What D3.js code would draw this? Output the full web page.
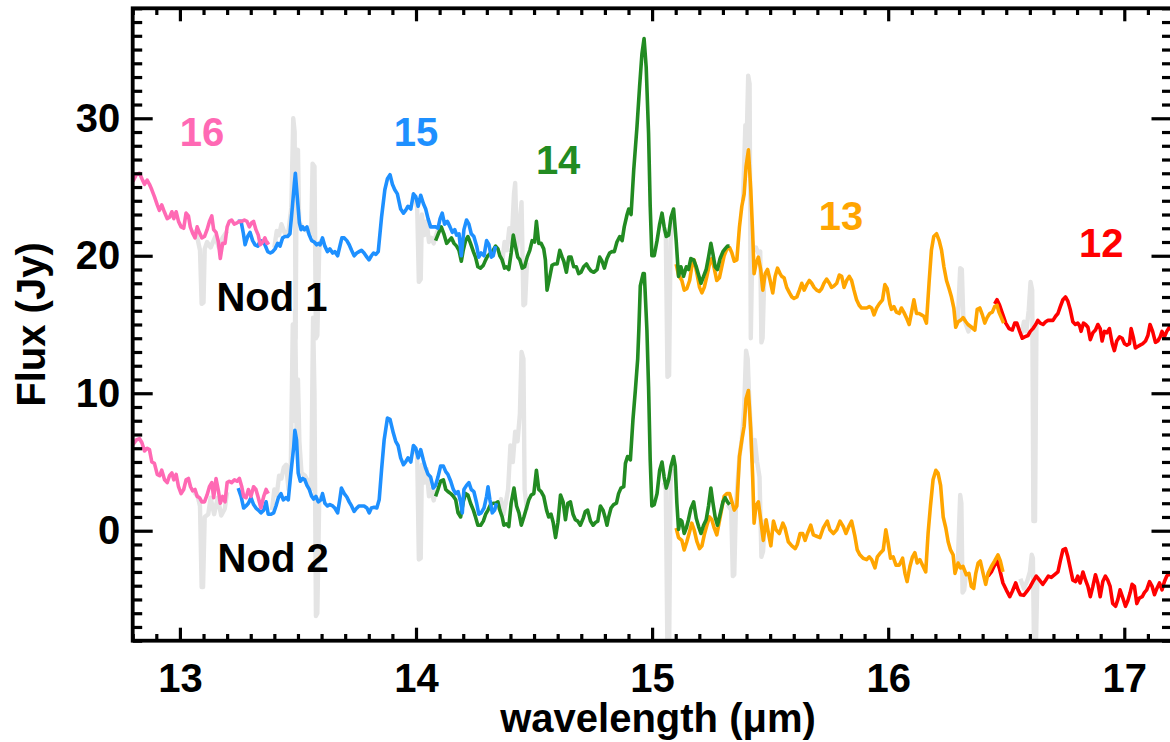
<!DOCTYPE html>
<html><head><meta charset="utf-8">
<script src="https://cdn.jsdelivr.net/npm/d3@7"></script>
<style>
html,body{margin:0;padding:0;background:#fff;}
svg text{font-family:"Liberation Sans",Arial,Helvetica,sans-serif;font-weight:bold;}
</style></head>
<body><svg id="chart" width="1170" height="742"></svg>
<script>
// ---------------- DATA (wavelength in micron, flux in Jy) ----------------
const xMajorTicks = [13, 14, 15, 16, 17];
const yMajorTicks = [0, 10, 20, 30];
const xLabel = "wavelength (\u03bcm)";
const yLabel = "Flux (Jy)";

const orderNames  = ["12", "13", "14", "15", "16"];
const orderColors = ["#FF0000", "#FFA500", "#228B22", "#1E90FF", "#FF69B4"];
// order label anchor points [wavelength, flux]
const orderLabelPos = [[16.902, 19.9], [15.80, 21.9], [14.602, 25.95], [14.0, 28.0], [13.094, 28.0]];
const nodNames = ["Nod 1", "Nod 2"];
const nodLabelPos = [[13.39, 16.0], [13.395, -3.0]];

const nod1_o16 = [[12.801,25.4],[12.815,25.9],[12.829,26.0],[12.839,25.6],[12.850,25.2],[12.861,25.5],[12.871,25.2],[12.881,24.8],[12.892,24.3],[12.904,23.7],[12.913,23.3],[12.923,23.7],[12.934,23.2],[12.946,22.7],[12.956,22.8],[12.966,23.2],[12.974,22.7],[12.984,23.2],[12.994,22.5],[13.005,22.1],[13.016,22.0],[13.026,23.1],[13.036,22.9],[13.044,22.1],[13.055,21.6],[13.064,21.3],[13.073,22.1],[13.082,21.7],[13.093,21.3],[13.104,21.4],[13.115,21.9],[13.125,22.5],[13.135,22.9],[13.143,21.9],[13.153,21.7],[13.163,21.0],[13.171,19.8],[13.181,20.9],[13.191,20.9],[13.200,22.1],[13.209,22.5],[13.219,22.6],[13.230,22.3],[13.242,22.4],[13.252,22.5],[13.262,22.5],[13.273,22.6],[13.284,22.5],[13.294,22.1],[13.304,22.4],[13.312,22.5],[13.322,21.9],[13.332,21.5],[13.340,20.8],[13.351,21.0],[13.360,21.3],[13.369,20.9],[13.378,21.0]];

const nod1_o15 = [[13.245,22.5],[13.259,22.5],[13.269,21.6],[13.276,20.8],[13.287,21.4],[13.297,21.7],[13.308,21.1],[13.318,20.8],[13.330,20.7],[13.341,21.1],[13.351,21.0],[13.360,20.8],[13.372,20.3],[13.383,20.2],[13.393,20.3],[13.403,20.5],[13.414,20.9],[13.424,20.7],[13.435,21.3],[13.445,21.4],[13.456,21.4],[13.466,21.6],[13.475,23.3],[13.485,25.3],[13.489,26.0],[13.496,24.5],[13.506,22.4],[13.513,21.9],[13.520,22.1],[13.527,21.9],[13.538,22.1],[13.548,21.5],[13.558,21.1],[13.569,21.0],[13.579,20.8],[13.587,20.9],[13.594,20.8],[13.604,21.3],[13.614,20.7],[13.625,20.3],[13.635,20.5],[13.647,20.2],[13.656,20.3],[13.668,20.0],[13.679,20.8],[13.686,21.3],[13.696,21.3],[13.707,21.1],[13.717,20.8],[13.727,20.4],[13.738,20.0],[13.749,20.2],[13.759,20.3],[13.769,20.4],[13.780,20.2],[13.792,19.9],[13.801,19.7],[13.811,20.0],[13.820,20.2],[13.830,20.1],[13.840,20.3],[13.854,22.8],[13.868,24.8],[13.879,25.6],[13.890,25.9],[13.900,25.2],[13.910,24.8],[13.921,24.5],[13.935,23.4],[13.947,23.1],[13.956,23.3],[13.966,23.6],[13.978,23.4],[13.989,24.5],[13.999,24.3],[14.009,23.6],[14.020,24.4],[14.031,23.8],[14.041,23.4],[14.051,22.7],[14.062,22.1],[14.073,22.1],[14.083,22.1],[14.093,22.0],[14.102,22.7],[14.111,23.1],[14.121,22.3],[14.133,22.5],[14.144,22.1],[14.154,21.7],[14.164,21.9],[14.172,21.5],[14.182,21.6],[14.192,20.0],[14.203,21.9],[14.214,22.6],[14.224,22.3],[14.234,21.6],[14.245,21.4],[14.257,20.7],[14.266,19.9],[14.276,20.2],[14.288,20.0],[14.299,21.1],[14.309,20.8],[14.319,19.9],[14.327,20.0],[14.337,20.7]];

const nod1_o14 = [[14.083,21.1],[14.097,21.7],[14.107,22.1],[14.118,21.6],[14.130,20.9],[14.140,21.1],[14.150,21.3],[14.161,20.9],[14.172,20.7],[14.182,20.4],[14.192,19.6],[14.200,20.4],[14.210,21.1],[14.220,21.4],[14.231,20.9],[14.243,20.3],[14.252,19.9],[14.262,19.2],[14.273,19.1],[14.285,19.3],[14.295,19.7],[14.304,20.0],[14.316,20.2],[14.327,20.4],[14.337,20.7],[14.347,20.5],[14.355,20.0],[14.365,19.7],[14.375,19.1],[14.383,19.2],[14.393,19.0],[14.403,20.2],[14.412,21.5],[14.421,20.7],[14.431,19.9],[14.440,19.7],[14.450,19.1],[14.460,19.2],[14.471,19.9],[14.482,20.4],[14.492,21.1],[14.502,21.0],[14.510,22.5],[14.520,20.9],[14.530,20.9],[14.541,20.5],[14.548,19.7],[14.555,17.5],[14.567,18.5],[14.576,19.3],[14.586,19.4],[14.598,19.4],[14.609,20.4],[14.619,19.9],[14.626,19.6],[14.637,18.8],[14.647,19.9],[14.657,19.9],[14.668,19.2],[14.679,19.2],[14.689,18.7],[14.699,18.8],[14.710,19.2],[14.722,19.4],[14.732,19.1],[14.741,18.9],[14.753,18.8],[14.767,19.0],[14.778,19.9],[14.788,19.6],[14.798,19.1],[14.809,19.8],[14.820,20.2],[14.830,20.3],[14.840,20.3],[14.851,21.0],[14.863,21.4],[14.873,21.1],[14.882,22.1],[14.894,23.0],[14.901,23.4],[14.911,23.0],[14.922,26.2],[14.936,29.4],[14.947,32.3],[14.957,34.7],[14.966,35.8],[14.975,33.7],[14.985,28.9],[14.992,23.6],[14.999,20.0],[15.009,20.0],[15.021,21.1],[15.032,22.3],[15.042,23.1],[15.051,22.1],[15.060,21.4],[15.070,21.5],[15.080,22.8],[15.091,23.4],[15.102,21.1],[15.112,18.5],[15.122,19.2],[15.133,18.5],[15.145,19.2],[15.154,19.0],[15.164,19.8],[15.176,19.7],[15.187,19.2],[15.197,18.6],[15.207,18.0],[15.218,18.5],[15.229,19.0],[15.239,19.9],[15.249,20.9],[15.257,20.2],[15.267,19.2],[15.277,19.0],[15.288,19.8],[15.300,20.3],[15.309,20.5],[15.319,20.7],[15.328,20.7]];

const nod1_o13 = [[15.102,19.4],[15.112,18.6],[15.126,18.2],[15.136,17.5],[15.147,17.6],[15.159,18.2],[15.168,19.2],[15.178,19.7],[15.190,18.7],[15.201,17.7],[15.211,17.3],[15.221,17.7],[15.232,18.5],[15.243,19.4],[15.253,19.8],[15.263,19.1],[15.274,18.2],[15.285,18.4],[15.295,19.2],[15.305,20.0],[15.317,20.5],[15.328,20.6],[15.338,20.2],[15.348,19.6],[15.359,19.7],[15.370,22.1],[15.380,23.6],[15.390,24.5],[15.398,26.5],[15.408,27.7],[15.418,24.8],[15.426,21.6],[15.432,18.7],[15.440,19.4],[15.450,19.9],[15.460,19.0],[15.469,17.5],[15.479,18.7],[15.489,19.0],[15.500,18.2],[15.511,17.3],[15.521,18.5],[15.531,19.1],[15.542,18.7],[15.549,18.5],[15.559,18.4],[15.570,17.7],[15.582,17.3],[15.592,17.0],[15.601,16.9],[15.613,17.0],[15.624,17.5],[15.634,18.0],[15.644,17.5],[15.655,17.9],[15.666,18.2],[15.676,18.0],[15.686,17.7],[15.697,17.5],[15.708,17.4],[15.718,17.6],[15.728,18.0],[15.739,18.3],[15.751,18.0],[15.760,17.7],[15.770,17.8],[15.782,18.0],[15.793,18.6],[15.803,18.5],[15.813,17.7],[15.824,18.2],[15.835,18.5],[15.845,18.2],[15.855,17.5],[15.866,16.8],[15.877,16.4],[15.887,16.2],[15.897,16.2],[15.909,16.2],[15.920,16.3],[15.930,16.2],[15.940,15.7],[15.951,16.2],[15.962,16.5],[15.976,16.8],[15.986,17.9],[15.996,17.6],[16.007,16.5],[16.014,16.1],[16.024,16.3],[16.035,15.9],[16.047,15.8],[16.056,16.2],[16.066,15.9],[16.077,15.5],[16.089,15.0],[16.099,15.9],[16.109,16.8],[16.120,15.8],[16.131,15.8],[16.141,15.7],[16.151,15.6],[16.162,15.1],[16.173,18.0],[16.183,20.4],[16.193,21.4],[16.205,21.6],[16.216,21.1],[16.226,20.4],[16.236,19.2],[16.247,18.2],[16.258,17.6],[16.268,17.0],[16.278,16.2],[16.286,14.8],[16.296,15.2],[16.306,15.3],[16.317,15.5],[16.329,15.2],[16.338,15.0],[16.353,14.8],[16.367,14.6],[16.377,16.1],[16.388,16.2],[16.399,15.7],[16.409,15.1],[16.419,15.5],[16.430,15.8],[16.441,15.9],[16.451,16.3],[16.461,16.4],[16.469,15.9],[16.479,15.5],[16.489,15.1]];

const nod1_o12 = [[16.451,16.5],[16.461,16.8],[16.472,16.4],[16.484,15.8],[16.498,15.1],[16.512,14.7],[16.526,14.6],[16.536,15.1],[16.545,15.1],[16.557,14.5],[16.568,14.0],[16.578,14.1],[16.592,14.2],[16.602,14.5],[16.613,14.7],[16.625,15.0],[16.634,15.3],[16.644,15.1],[16.656,15.0],[16.667,15.2],[16.677,15.3],[16.686,15.3],[16.698,15.3],[16.709,15.6],[16.719,15.8],[16.729,16.3],[16.740,16.8],[16.751,17.0],[16.761,16.7],[16.771,16.1],[16.782,15.2],[16.793,15.0],[16.803,15.1],[16.811,14.9],[16.817,14.5],[16.827,15.1],[16.836,15.0],[16.846,14.8],[16.856,13.9],[16.867,14.4],[16.878,14.6],[16.888,15.0],[16.898,14.7],[16.906,13.8],[16.916,14.5],[16.926,14.4],[16.937,14.7],[16.949,13.6],[16.958,13.1],[16.968,13.8],[16.980,14.1],[16.991,14.0],[17.001,13.6],[17.011,13.5],[17.022,13.6],[17.029,14.7],[17.039,14.0],[17.047,13.3],[17.057,13.4],[17.067,13.5],[17.078,13.6],[17.090,13.8],[17.100,14.2],[17.109,15.0],[17.120,14.5],[17.132,13.7],[17.142,13.8],[17.152,14.1],[17.160,14.5],[17.170,14.1],[17.180,14.5],[17.191,14.8],[17.200,14.6]];

const nod2_o16 = [[12.801,6.25],[12.815,6.6],[12.829,6.7],[12.839,6.4],[12.850,5.8],[12.861,6.0],[12.871,5.9],[12.881,5.0],[12.892,4.9],[12.904,4.1],[12.914,4.0],[12.923,4.4],[12.935,3.7],[12.946,3.5],[12.956,4.0],[12.966,4.2],[12.974,3.7],[12.984,4.1],[12.994,3.2],[13.005,2.7],[13.016,3.0],[13.026,3.7],[13.036,3.8],[13.045,3.2],[13.054,2.9],[13.064,3.0],[13.073,2.5],[13.083,2.4],[13.093,2.1],[13.104,2.1],[13.115,2.6],[13.125,3.2],[13.135,3.5],[13.143,2.4],[13.153,3.8],[13.163,2.9],[13.171,2.0],[13.181,2.5],[13.191,2.1],[13.200,3.5],[13.209,3.6],[13.219,3.5],[13.231,3.7],[13.242,3.6],[13.252,3.8],[13.262,3.2],[13.270,2.5],[13.280,2.4],[13.290,3.0],[13.301,2.5],[13.312,3.2],[13.322,3.0],[13.332,2.4],[13.343,1.65],[13.355,2.5],[13.365,3.0],[13.374,2.7]];

const nod2_o15 = [[13.247,3.1],[13.259,2.5],[13.270,1.65],[13.280,1.8],[13.290,2.0],[13.301,2.4],[13.312,1.9],[13.322,1.65],[13.332,1.5],[13.343,1.3],[13.355,1.5],[13.365,2.1],[13.374,1.2],[13.386,1.2],[13.397,1.3],[13.407,1.8],[13.417,2.4],[13.428,2.7],[13.438,2.25],[13.449,2.4],[13.459,2.25],[13.470,4.2],[13.482,6.1],[13.487,7.3],[13.494,6.6],[13.501,4.2],[13.510,3.6],[13.520,3.8],[13.529,3.7],[13.538,3.3],[13.548,3.0],[13.558,2.5],[13.566,2.3],[13.576,2.5],[13.586,2.1],[13.597,2.25],[13.604,2.7],[13.614,2.0],[13.625,1.8],[13.635,1.9],[13.647,1.8],[13.656,1.65],[13.668,1.3],[13.677,2.25],[13.684,3.1],[13.696,2.7],[13.707,2.45],[13.717,2.1],[13.727,1.8],[13.738,1.4],[13.749,1.65],[13.759,1.8],[13.769,1.8],[13.780,1.8],[13.792,1.65],[13.802,1.3],[13.811,1.65],[13.823,1.7],[13.834,1.65],[13.844,2.25],[13.854,4.4],[13.865,6.6],[13.879,8.2],[13.890,8.1],[13.904,7.1],[13.914,6.5],[13.924,6.2],[13.935,5.3],[13.947,4.8],[13.956,5.0],[13.966,5.3],[13.978,5.0],[13.989,6.2],[13.999,6.0],[14.009,5.3],[14.020,5.9],[14.031,5.15],[14.041,4.55],[14.051,4.1],[14.062,3.9],[14.073,3.1],[14.083,3.3],[14.093,3.9],[14.104,4.7],[14.116,4.7],[14.126,4.3],[14.135,4.1],[14.147,3.6],[14.158,3.0],[14.168,2.7],[14.178,2.85],[14.189,2.1],[14.196,1.3],[14.203,3.0],[14.214,3.3],[14.224,3.5],[14.234,3.0],[14.245,2.85],[14.257,2.0],[14.266,1.2],[14.276,1.3],[14.288,1.65],[14.299,2.5],[14.305,3.2],[14.313,2.25],[14.323,1.3],[14.333,1.5],[14.341,2.0]];

const nod2_o14 = [[14.083,2.5],[14.093,3.0],[14.104,3.6],[14.116,3.7],[14.126,3.0],[14.135,2.85],[14.147,2.7],[14.158,2.5],[14.168,2.25],[14.178,1.3],[14.189,1.0],[14.200,2.1],[14.210,2.7],[14.220,2.6],[14.231,2.0],[14.243,1.5],[14.252,1.0],[14.262,0.4],[14.274,0.4],[14.285,0.7],[14.295,1.2],[14.305,1.5],[14.316,1.9],[14.327,2.0],[14.337,2.0],[14.347,2.1],[14.355,1.5],[14.365,1.0],[14.372,0.4],[14.383,0.5],[14.393,0.3],[14.403,2.0],[14.415,3.1],[14.426,1.8],[14.436,1.3],[14.446,0.4],[14.457,1.0],[14.468,1.65],[14.478,2.25],[14.488,2.6],[14.499,2.7],[14.510,4.4],[14.520,3.0],[14.530,2.85],[14.541,2.5],[14.553,1.5],[14.562,1.0],[14.572,1.2],[14.581,0.6],[14.591,-0.5],[14.601,0.6],[14.612,2.6],[14.623,2.1],[14.633,0.8],[14.643,2.0],[14.654,2.1],[14.665,1.2],[14.675,0.8],[14.685,0.7],[14.696,0.4],[14.708,0.9],[14.717,1.4],[14.727,1.5],[14.739,0.7],[14.750,0.4],[14.760,0.6],[14.770,0.7],[14.781,1.8],[14.792,1.5],[14.802,0.9],[14.809,0.4],[14.816,1.0],[14.826,1.65],[14.837,1.9],[14.849,2.0],[14.858,2.7],[14.868,3.1],[14.880,3.2],[14.887,4.9],[14.896,5.4],[14.908,5.15],[14.919,8.1],[14.929,10.2],[14.939,12.5],[14.944,14.7],[14.950,17.8],[14.962,18.7],[14.967,18.7],[14.978,14.6],[14.985,10.5],[14.992,5.15],[14.999,1.8],[15.009,1.9],[15.021,2.7],[15.032,4.4],[15.042,5.0],[15.051,3.9],[15.060,3.1],[15.070,3.7],[15.080,4.7],[15.091,5.4],[15.098,4.7],[15.105,2.0],[15.112,0.1],[15.119,0.8],[15.126,0.7],[15.136,-0.2],[15.145,0.2],[15.154,0.8],[15.164,1.6],[15.176,2.1],[15.187,0.9],[15.197,0.3],[15.207,-0.2],[15.218,0.4],[15.229,0.8],[15.239,1.8],[15.249,3.1],[15.257,2.1],[15.267,1.0],[15.277,0.4],[15.288,1.2],[15.300,2.1],[15.309,2.4],[15.319,2.1],[15.328,1.9]];

const nod2_o13 = [[15.102,0.2],[15.112,-0.5],[15.126,-0.7],[15.136,-1.4],[15.147,-0.8],[15.159,-0.05],[15.168,0.55],[15.178,0.07],[15.190,-0.8],[15.201,-1.3],[15.211,-1.1],[15.221,-0.3],[15.232,0.4],[15.243,1.0],[15.253,0.8],[15.263,0.2],[15.274,-0.3],[15.285,0.7],[15.295,1.6],[15.305,2.5],[15.317,2.7],[15.328,2.7],[15.338,2.1],[15.348,1.5],[15.359,1.8],[15.370,5.4],[15.380,6.6],[15.390,7.6],[15.398,9.6],[15.408,10.2],[15.418,7.3],[15.426,3.9],[15.432,0.55],[15.440,1.8],[15.450,2.1],[15.460,0.8],[15.471,-0.7],[15.483,0.8],[15.493,-0.2],[15.503,-1.1],[15.514,0.7],[15.525,0.07],[15.539,-0.2],[15.554,0.55],[15.563,0.2],[15.577,-0.8],[15.592,-1.1],[15.606,-1.3],[15.615,-1.0],[15.627,-0.2],[15.638,-0.2],[15.648,-0.7],[15.658,-0.2],[15.672,0.4],[15.683,-0.3],[15.697,-0.4],[15.711,-0.5],[15.725,0.2],[15.742,0.7],[15.753,0.07],[15.768,-0.2],[15.782,0.07],[15.796,0.7],[15.810,0.3],[15.821,-0.2],[15.833,0.3],[15.845,0.7],[15.859,-0.4],[15.869,-1.4],[15.880,-1.75],[15.894,-2.0],[15.909,-2.1],[15.920,-1.9],[15.930,-2.1],[15.944,-2.7],[15.954,-1.9],[15.968,-1.6],[15.979,-1.4],[15.990,0.07],[16.000,-0.9],[16.010,-2.0],[16.021,-1.9],[16.033,-2.5],[16.047,-2.5],[16.061,-2.0],[16.071,-3.1],[16.080,-3.7],[16.092,-2.6],[16.103,-1.9],[16.113,-1.6],[16.123,-2.35],[16.134,-2.1],[16.145,-2.5],[16.159,-3.0],[16.169,-0.2],[16.179,1.8],[16.190,3.7],[16.202,4.4],[16.211,4.2],[16.222,3.3],[16.233,1.0],[16.244,0.2],[16.254,-0.8],[16.264,-1.4],[16.275,-1.75],[16.283,-3.1],[16.296,-2.35],[16.306,-2.7],[16.317,-2.6],[16.331,-3.2],[16.342,-3.1],[16.352,-4.05],[16.362,-4.2],[16.371,-3.1],[16.381,-2.35],[16.390,-2.2],[16.402,-3.1],[16.413,-3.9],[16.423,-3.1],[16.437,-2.6],[16.451,-2.2],[16.465,-1.75],[16.475,-2.2],[16.486,-3.0]];

const nod2_o12 = [[16.423,-3.3],[16.437,-3.0],[16.451,-2.5],[16.461,-2.2],[16.472,-2.8],[16.486,-3.8],[16.500,-4.3],[16.515,-4.8],[16.526,-4.4],[16.540,-3.8],[16.550,-4.3],[16.560,-4.65],[16.574,-4.7],[16.588,-4.4],[16.602,-4.05],[16.613,-3.7],[16.627,-3.3],[16.641,-3.6],[16.655,-3.9],[16.667,-3.6],[16.678,-3.3],[16.691,-3.4],[16.705,-3.2],[16.719,-3.0],[16.729,-2.2],[16.740,-1.4],[16.751,-1.3],[16.761,-1.9],[16.771,-2.7],[16.782,-3.6],[16.794,-3.7],[16.803,-3.3],[16.813,-3.8],[16.825,-3.0],[16.836,-3.6],[16.846,-4.05],[16.856,-4.8],[16.867,-4.05],[16.878,-3.2],[16.888,-3.8],[16.898,-4.8],[16.909,-3.7],[16.920,-3.3],[16.930,-3.6],[16.940,-4.05],[16.951,-5.3],[16.963,-5.5],[16.973,-5.0],[16.982,-4.3],[16.994,-4.9],[17.005,-5.5],[17.015,-5.1],[17.025,-4.5],[17.033,-3.9],[17.043,-4.05],[17.053,-5.3],[17.064,-4.9],[17.076,-4.8],[17.085,-4.5],[17.095,-4.3],[17.107,-3.7],[17.118,-4.05],[17.128,-4.65],[17.138,-4.2],[17.149,-3.8],[17.160,-4.3],[17.170,-3.7],[17.180,-3.3],[17.191,-3.1],[17.200,-3.3]];

// rejected (unclipped) data shown in grey
const nod1_gray = [
  [[13.06,21.9],[13.075,21.2],[13.085,20.4],[13.092,16.5],[13.10,16.6],[13.105,20.5],[13.115,21.0],[13.13,20.6],[13.15,21.4],[13.165,20.6],[13.18,21.3],[13.20,21.8]],
  [[13.40,20.6],[13.41,21.8],[13.42,21.5],[13.43,22.3],[13.445,21.6],[13.46,21.8],[13.472,23.5],[13.480,30.0],[13.486,29.0],[13.490,14.0],[13.495,27.5],[13.50,27.7],[13.505,22.5],[13.52,22.0],[13.54,21.8],[13.556,21.5],[13.562,26.7],[13.570,26.5],[13.576,14.0],[13.582,14.2],[13.59,20.5],[13.60,21.2]],
  [[13.995,24.2],[14.005,23.5],[14.012,18.1],[14.02,18.3],[14.025,23.0],[14.035,21.5],[14.045,22.5],[14.055,21.0],[14.065,21.3],[14.075,20.9],[14.085,21.5],[14.095,22.0]],
  [[14.365,19.5],[14.375,21.0],[14.385,20.4],[14.395,22.0],[14.405,21.0],[14.415,24.5],[14.42,25.3],[14.428,20.5],[14.44,22.5],[14.447,23.9],[14.455,16.4],[14.462,16.5],[14.47,19.5]],
  [[15.05,22.0],[15.058,21.6],[15.065,11.2],[15.072,11.3],[15.078,21.0],[15.085,22.5]],
  [[15.385,24.0],[15.395,29.5],[15.40,28.0],[15.407,33.1],[15.413,32.5],[15.418,14.0],[15.425,21.0],[15.43,20.4],[15.44,20.6],[15.45,20.2],[15.458,20.3],[15.463,13.7],[15.468,14.0],[15.475,18.5]],
  [[16.295,15.3],[16.305,19.1],[16.312,19.0],[16.318,15.6],[16.325,15.2],[16.34,14.5],[16.35,15.0]],
  [[16.565,14.3],[16.575,15.2],[16.585,14.5],[16.595,16.0],[16.603,18.1],[16.61,17.5],[16.615,0.7],[16.622,0.7],[16.628,15.0],[16.635,15.3]]
];
const nod2_gray = [
  [[13.06,2.8],[13.075,2.5],[13.085,1.8],[13.092,-4.1],[13.098,-4.1],[13.105,1.0],[13.12,1.2],[13.13,2.4],[13.145,1.2],[13.16,2.4],[13.175,1.1],[13.19,1.6],[13.20,2.8]],
  [[13.39,1.5],[13.40,3.0],[13.41,2.6],[13.42,4.0],[13.43,3.8],[13.44,4.6],[13.45,4.8],[13.46,3.0],[13.47,5.0],[13.478,15.0],[13.483,8.0],[13.488,16.0],[13.494,7.5],[13.50,11.0],[13.506,6.5],[13.515,4.2],[13.53,4.0],[13.545,3.5],[13.556,3.0],[13.564,15.5],[13.570,10.0],[13.576,-6.2],[13.582,-6.0],[13.59,2.2],[13.60,2.5]],
  [[13.995,6.0],[14.005,5.5],[14.012,-2.1],[14.02,-2.0],[14.025,4.8],[14.035,3.5],[14.045,4.5],[14.055,2.5],[14.065,3.0],[14.075,2.2],[14.085,3.0]],
  [[14.35,1.5],[14.36,2.3],[14.37,1.2],[14.38,2.0],[14.39,3.0],[14.40,6.2],[14.41,5.0],[14.42,7.2],[14.43,6.5],[14.44,8.5],[14.447,13.0],[14.455,12.5],[14.46,3.0],[14.47,1.5]],
  [[15.05,3.5],[15.058,3.0],[15.065,-9.0],[15.072,-9.0],[15.078,3.5],[15.085,4.5]],
  [[15.32,1.9],[15.335,1.5],[15.342,-3.3],[15.348,-3.2],[15.355,1.8],[15.37,5.4],[15.38,6.6],[15.39,9.0],[15.398,13.1],[15.405,12.5],[15.41,10.2],[15.418,7.3],[15.426,5.0],[15.435,6.6],[15.445,5.0],[15.455,3.9],[15.463,-1.9],[15.47,-1.5],[15.478,0.8]],
  [[16.295,-2.3],[16.305,2.6],[16.31,2.0],[16.315,-4.5],[16.322,-4.3],[16.33,-3.0]],
  [[16.56,-3.5],[16.575,-4.2],[16.59,-3.6],[16.60,-3.0],[16.608,-1.75],[16.613,-2.0],[16.618,-9.0],[16.625,-9.0],[16.632,-3.3]]
];

// spectra per order (index matches orderNames / orderColors)
const nod1Orders = [nod1_o12, nod1_o13, nod1_o14, nod1_o15, nod1_o16];
const nod2Orders = [nod2_o12, nod2_o13, nod2_o14, nod2_o15, nod2_o16];

// ---------------- CHART ----------------
const svg = d3.select("#chart");
const W = 1170, H = 742;
const pL = 132.7, pR = 1171.5, pT = 8.3, pB = 640.7;
const FONT = 40;

const x = d3.scaleLinear().domain([12.8, 17.2]).range([pL, pR]);
const y = d3.scaleLinear().domain([-8, 38]).range([pB, pT]);

svg.append("rect").attr("width", W).attr("height", H).attr("fill", "#fff");

svg.append("defs").append("clipPath").attr("id", "clip")
  .append("rect").attr("x", pL).attr("y", pT)
  .attr("width", pR - pL).attr("height", pB - pT);

const line = d3.line().x(d => x(d[0])).y(d => y(d[1]));
const plot = svg.append("g").attr("clip-path", "url(#clip)");

// grey rejected data
[nod1_gray, nod2_gray].forEach(segs => {
  segs.forEach(seg => {
    plot.append("path").datum(seg).attr("d", line)
      .attr("fill", "none").attr("stroke", "#e4e4e4")
      .attr("stroke-width", 4.4).attr("stroke-linejoin", "round");
  });
});

// coloured orders
[nod1Orders, nod2Orders].forEach(orders => {
  orders.forEach((seg, i) => {
    plot.append("path").datum(seg).attr("d", line)
      .attr("fill", "none").attr("stroke", orderColors[i])
      .attr("stroke-width", 3.6).attr("stroke-linejoin", "round");
  });
});

// axes
const xMinor = d3.range(128, 173).map(v => v / 10).filter(v => Math.abs(v - Math.round(v)) > 1e-6);
const yMinor = d3.range(-8, 39).filter(v => v % 10 !== 0);

function styleAxis(g) {
  g.select(".domain").remove();
  g.selectAll(".tick line").attr("stroke", "#000").attr("stroke-width", 3.2);
  g.selectAll(".tick text").attr("fill", "#000").style("font-size", FONT + "px")
    .style("font-weight", "bold").style("font-family", '"Liberation Sans", Arial, sans-serif');
}

svg.append("g").attr("transform", `translate(0,${pB})`)
  .call(d3.axisBottom(x).tickValues(xMajorTicks).tickSize(-13).tickPadding(23).tickFormat(d3.format("d")))
  .call(styleAxis);
svg.append("g").attr("transform", `translate(0,${pB})`)
  .call(d3.axisBottom(x).tickValues(xMinor).tickSize(-6.7).tickFormat(""))
  .call(styleAxis);
svg.append("g").attr("transform", `translate(0,${pT})`)
  .call(d3.axisTop(x).tickValues(xMajorTicks).tickSize(-13).tickFormat(""))
  .call(styleAxis);
svg.append("g").attr("transform", `translate(0,${pT})`)
  .call(d3.axisTop(x).tickValues(xMinor).tickSize(-6.7).tickFormat(""))
  .call(styleAxis);

svg.append("g").attr("transform", `translate(${pL},0)`)
  .call(d3.axisLeft(y).tickValues(yMajorTicks).tickSize(-20).tickPadding(12.5).tickFormat(d3.format("d")))
  .call(styleAxis);
svg.append("g").attr("transform", `translate(${pL},0)`)
  .call(d3.axisLeft(y).tickValues(yMinor).tickSize(-9.5).tickFormat(""))
  .call(styleAxis);
svg.append("g").attr("transform", `translate(${pR},0)`)
  .call(d3.axisRight(y).tickValues(yMajorTicks).tickSize(-20).tickFormat(""))
  .call(styleAxis);
svg.append("g").attr("transform", `translate(${pR},0)`)
  .call(d3.axisRight(y).tickValues(yMinor).tickSize(-9.5).tickFormat(""))
  .call(styleAxis);

// frame (right edge sits just beyond the visible window, as in the original)
svg.append("rect").attr("x", pL).attr("y", pT)
  .attr("width", pR + 2 - pL).attr("height", pB - pT)
  .attr("fill", "none").attr("stroke", "#000").attr("stroke-width", 3.8);

// axis titles
svg.append("text").attr("x", 658).attr("y", 732).attr("text-anchor", "middle")
  .style("font-size", FONT + "px").text(xLabel);
svg.append("text").attr("transform", `translate(45,${(pT + pB) / 2}) rotate(-90)`)
  .attr("text-anchor", "middle").style("font-size", FONT + "px").text(yLabel);

// order labels
orderNames.forEach((t, i) => {
  svg.append("text").attr("x", x(orderLabelPos[i][0])).attr("y", y(orderLabelPos[i][1]))
    .attr("text-anchor", "middle").attr("fill", orderColors[i])
    .style("font-size", FONT + "px").text(t);
});
nodNames.forEach((t, i) => {
  svg.append("text").attr("x", x(nodLabelPos[i][0])).attr("y", y(nodLabelPos[i][1]))
    .attr("text-anchor", "middle").attr("fill", "#000")
    .style("font-size", FONT + "px").text(t);
});
</script>
</body></html>
